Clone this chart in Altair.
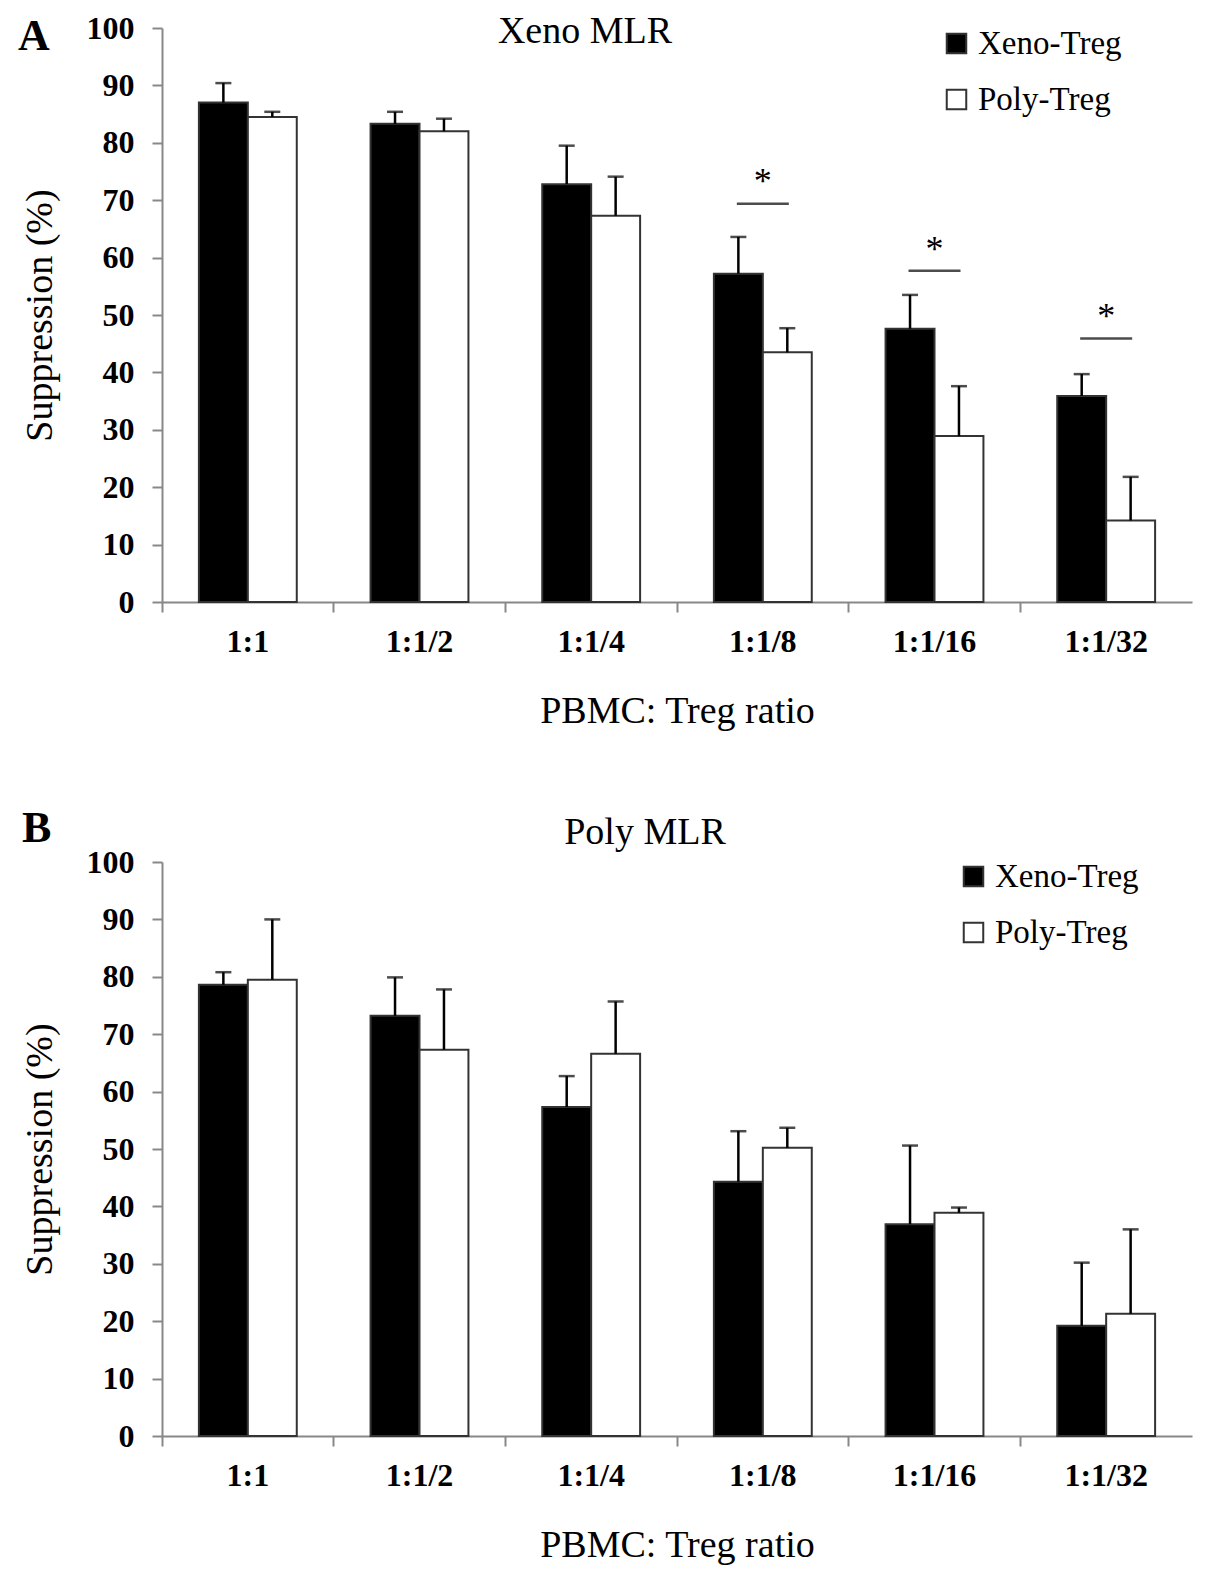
import altair as alt
import pandas as pd

ratios = ["1:1", "1:1/2", "1:1/4", "1:1/8", "1:1/16", "1:1/32"]
groups = ["Xeno-Treg", "Poly-Treg"]
y_ticks = [0, 10, 20, 30, 40, 50, 60, 70, 80, 90, 100]

# panel A: Xeno MLR
a_xeno = [87.0, 83.3, 72.8, 57.2, 47.6, 35.9]
a_xeno_err = [3.4, 2.1, 6.7, 6.4, 5.9, 3.8]
a_poly = [84.5, 82.0, 67.3, 43.5, 28.9, 14.2]
a_poly_err = [0.9, 2.2, 6.8, 4.2, 8.7, 7.6]
a_sig_ratios = ["1:1/8", "1:1/16", "1:1/32"]
a_sig_line = [69.4, 57.7, 45.9]
a_sig_star = [74.5, 62.8, 51.1]

# panel B: Poly MLR
b_xeno = [78.6, 73.2, 57.3, 44.3, 36.9, 19.2]
b_xeno_err = [2.2, 6.7, 5.4, 8.8, 13.7, 11.0]
b_poly = [79.5, 67.3, 66.6, 50.2, 38.9, 21.3]
b_poly_err = [10.5, 10.5, 9.1, 3.5, 0.9, 14.7]

W = 1030
H = 574
SERIF = "Liberation Serif"


def make_df(xeno, xeno_err, poly, poly_err):
    rows = []
    for r, v, e in zip(ratios, xeno, xeno_err):
        rows.append({"ratio": r, "group": "Xeno-Treg", "value": v, "upper": v + e})
    for r, v, e in zip(ratios, poly, poly_err):
        rows.append({"ratio": r, "group": "Poly-Treg", "value": v, "upper": v + e})
    return pd.DataFrame(rows)


def panel(df, title, letter, title_pos, letter_pos, legend_pos, sig=None):
    x = alt.X(
        "ratio:N", sort=ratios,
        scale=alt.Scale(paddingInner=0, paddingOuter=0),
        axis=alt.Axis(title="PBMC: Treg ratio", bandPosition=0, labelAngle=0,
                      labelPadding=14, titlePadding=35),
    )
    xo = alt.XOffset("group:N", sort=groups,
                     scale=alt.Scale(domain=groups, paddingInner=0, paddingOuter=0.754))
    y = alt.Y(
        "value:Q", scale=alt.Scale(domain=[0, 100], nice=False),
        axis=alt.Axis(title="Suppression (%)", values=y_ticks, labelPadding=18, titlePadding=27),
    )

    bars = alt.Chart(df).mark_bar(stroke="#333333", strokeWidth=2).encode(
        x=x, xOffset=xo, y=y,
        color=alt.Color(
            "group:N",
            scale=alt.Scale(domain=groups, range=["#000000", "#ffffff"]),
            legend=alt.Legend(
                title=None, orient="none", legendX=legend_pos[0], legendY=legend_pos[1],
                symbolType="square", symbolSize=380, symbolStrokeColor="#333333",
                symbolStrokeWidth=2, labelFont=SERIF, labelFontSize=33,
                labelColor="black", labelOffset=5, rowPadding=22, padding=0,
            ),
        ),
    )
    err = alt.Chart(df).mark_rule(color="black", strokeWidth=2.5).encode(
        x=x, xOffset=xo, y="value:Q", y2="upper:Q"
    )
    caps = alt.Chart(df).mark_tick(color="black", thickness=2.5, size=16).encode(
        x=x, xOffset=xo, y="upper:Q"
    )

    ttl = alt.Chart(pd.DataFrame({"t": [title]})).mark_text(
        font=SERIF, fontSize=38, color="black", baseline="middle", align="center"
    ).encode(text="t:N", x=alt.value(title_pos[0]), y=alt.value(title_pos[1]))
    let = alt.Chart(pd.DataFrame({"t": [letter]})).mark_text(
        font=SERIF, fontSize=44, fontWeight="bold", color="black",
        baseline="middle", align="left"
    ).encode(text="t:N", x=alt.value(letter_pos[0]), y=alt.value(letter_pos[1]))

    layers = [bars, err, caps]
    if sig is not None:
        sig_df = pd.DataFrame({"ratio": sig[0], "line": sig[1], "star": sig[2]})
        sig_line = alt.Chart(sig_df).mark_tick(color="black", thickness=2.5, size=52).encode(
            x=alt.X("ratio:N", sort=ratios), y="line:Q"
        )
        sig_star = alt.Chart(sig_df).mark_text(
            text="*", font=SERIF, fontSize=36, color="black", baseline="middle", dy=8
        ).encode(x=alt.X("ratio:N", sort=ratios), y="star:Q")
        layers += [sig_line, sig_star]
    layers += [ttl, let]
    return alt.layer(*layers).properties(width=W, height=H)


panel_a = panel(
    make_df(a_xeno, a_xeno_err, a_poly, a_poly_err),
    "Xeno MLR", "A", (423, 4), (-144, 9), (778, -1),
    sig=(a_sig_ratios, a_sig_line, a_sig_star),
)
panel_b = panel(
    make_df(b_xeno, b_xeno_err, b_poly, b_poly_err),
    "Poly MLR", "B", (483, -29), (-140, -33), (795, -2),
)

chart = (
    alt.vconcat(panel_a, panel_b, spacing=77)
    .resolve_scale(color="independent", x="independent", y="independent")
    .resolve_legend(color="independent")
    .properties(padding={"left": 10, "top": 4, "right": 5, "bottom": 2})
    .configure_view(strokeWidth=0)
    .configure_axis(
        grid=False, domainColor="#888888", domainWidth=2, tickColor="#888888",
        tickWidth=2, tickSize=10, labelFont=SERIF, labelFontWeight="bold",
        labelFontSize=32, labelColor="black", titleFont=SERIF, titleFontWeight="normal",
        titleFontSize=38, titleColor="black",
    )
)

chart.save("out.html", embed_options={"renderer": "svg", "actions": False})
